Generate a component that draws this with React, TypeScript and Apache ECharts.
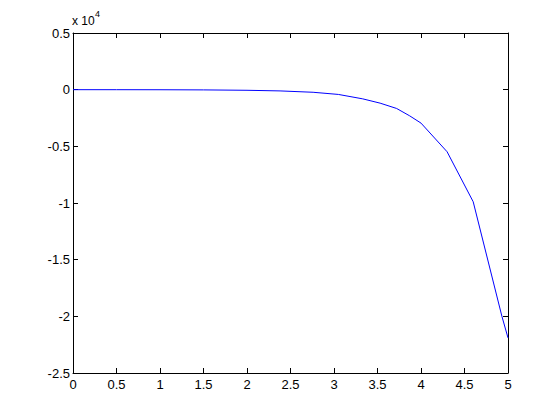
import React, { useEffect, useRef } from "react";
import * as echarts from "echarts";

const xValues = [0, 0.5, 1, 1.5, 2, 2.38, 2.76, 3.05, 3.33, 3.53, 3.72, 3.87, 4.0, 4.3, 4.6, 4.93, 5.0];
const yValues = [-1, -3, -7, -20, -55, -110, -230, -420, -810, -1190, -1660, -2310, -2950, -5480, -9890, -20000, -21900];
const xTicks = { min: 0, max: 5, interval: 0.5 };
const yTicks = { min: -25000, max: 5000, interval: 5000 };
const exponentLabel = "x 10";
const exponentPower = "4";

const FONT = "'Liberation Sans', Arial, Helvetica, sans-serif";

export default function App() {
  const ref = useRef<HTMLDivElement>(null);
  useEffect(() => {
    if (!ref.current) return;
    const chart = echarts.init(ref.current, undefined, { renderer: "svg" });
    const axisCommon = {
      axisLine: { show: true, onZero: false, lineStyle: { color: "#000", width: 1 } },
      axisTick: { show: true, inside: true, length: 5, lineStyle: { color: "#000", width: 1 } },
      splitLine: { show: false },
    };
    chart.setOption({
      animation: false,
      backgroundColor: "#fff",
      grid: { left: 73, right: 52, top: 33, bottom: 47 },
      xAxis: [
        {
          type: "value",
          ...xTicks,
          ...axisCommon,
          axisLabel: { color: "#000", fontSize: 13, fontFamily: FONT, margin: 5, formatter: (v: number) => String(v) },
        },
        {
          type: "value",
          position: "top",
          ...xTicks,
          ...axisCommon,
          axisLabel: { show: false },
        },
      ],
      yAxis: [
        {
          type: "value",
          ...yTicks,
          ...axisCommon,
          axisLabel: {
            color: "#000",
            fontSize: 13,
            fontFamily: FONT,
            margin: 3,
            formatter: (v: number) => String(Math.round(v / 1000) / 10),
          },
        },
        {
          type: "value",
          position: "right",
          ...yTicks,
          ...axisCommon,
          axisLabel: { show: false },
        },
      ],
      series: [
        {
          type: "line",
          xAxisIndex: 0,
          yAxisIndex: 0,
          data: xValues.map((x, i) => [x, yValues[i]]),
          showSymbol: false,
          symbol: "none",
          lineStyle: { color: "#0000ff", width: 1 },
        },
      ],
      graphic: [
        {
          type: "text",
          left: 72,
          top: 15,
          style: { text: exponentLabel, fontSize: 12, fontFamily: FONT, fill: "#000" },
        },
        {
          type: "text",
          left: 95,
          top: 9,
          style: { text: exponentPower, fontSize: 9, fontFamily: FONT, fill: "#000" },
        },
      ],
    });
    return () => chart.dispose();
  }, []);
  return (
    <div
      ref={ref}
      style={{ position: "fixed", left: 0, top: 0, width: 560, height: 420, background: "#fff" }}
    />
  );
}
